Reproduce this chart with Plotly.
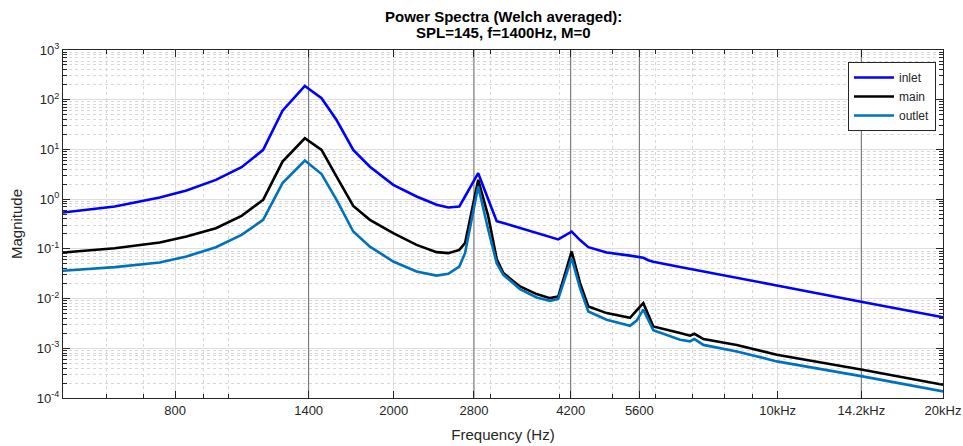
import plotly.graph_objects as go

# ---- data ----
freq = [500, 621, 750, 839, 949, 1057, 1157, 1255, 1378, 1478, 1574, 1688, 1810, 1996,
        2201, 2394, 2514, 2633, 2697, 2850, 2973, 3080, 3167, 3396, 3641, 3850, 3986,
        4217, 4368, 4522, 4884, 5385, 5538, 5694, 5815, 5938, 6643, 6926, 7054, 7326,
        8425, 9966, 14270, 20000]

inlet = [0.537, 0.71, 1.08, 1.49, 2.44, 4.39, 9.8, 60, 189, 107, 39, 9.8, 4.5, 1.94,
         1.13, 0.77, 0.68, 0.71, 1.13, 3.33, 0.98, 0.36, 0.331, 0.263, 0.209, 0.174, 0.155,
         0.223, 0.15, 0.108, 0.0845, 0.073, 0.0703, 0.066, 0.059, 0.055, 0.043, 0.0395, 0.038, 0.0355,
         0.0263, 0.0184, 0.0085, 0.0042]

main = [0.0845, 0.103, 0.134, 0.177, 0.26, 0.46, 0.97, 5.7, 16.8, 9.8, 2.84, 0.73, 0.384, 0.207,
        0.12, 0.086, 0.082, 0.095, 0.13, 2.44, 0.45, 0.062, 0.0325, 0.0175, 0.0123, 0.0102, 0.011,
        0.0885, 0.0205, 0.00695, 0.0051, 0.0041, 0.0058, 0.0081, 0.0047, 0.00275, 0.00202, 0.00179, 0.00196, 0.00153,
        0.00117, 0.00074, 0.00037, 0.000185]

outlet = [0.0362, 0.043, 0.053, 0.070, 0.108, 0.191, 0.384, 2.1, 5.97, 3.2, 0.97, 0.223, 0.111, 0.0557,
          0.035, 0.029, 0.0315, 0.044, 0.082, 1.79, 0.24, 0.0516, 0.030, 0.0155, 0.0105, 0.009, 0.0099,
          0.065, 0.016, 0.0055, 0.00375, 0.00284, 0.0036, 0.006, 0.0037, 0.0023, 0.00149, 0.00138, 0.00153, 0.00117,
          0.000865, 0.000545, 0.000272, 0.000136]

harmonics = [1400, 2800, 4200, 5600, 14200]

x_tickvals = [800, 1400, 2000, 2800, 4200, 5600, 10000, 14200, 20000]
x_ticktext = ["800", "1400", "2000", "2800", "4200", "5600", "10kHz", "14.2kHz", "20kHz"]
x_minor = [600, 700, 900, 1000, 3000, 4000, 5000, 6000, 7000, 8000, 9000]

y_exps = [-4, -3, -2, -1, 0, 1, 2, 3]

title_lines = ["Power Spectra (Welch averaged):", "SPL=145, f=1400Hz, M=0"]

# ---- figure ----
AX = "#262626"
FONT = "Liberation Sans, Arial, Helvetica, sans-serif"
ML, MR, MT, MB = 63, 20, 50, 48
PLOT_W = 963 - ML - MR
PLOT_H = 446 - MT - MB

fig = go.Figure()

for h in harmonics:
    fig.add_trace(go.Scatter(x=[h, h], y=[1e-4, 1e3], mode="lines",
                             line=dict(color="#6a6a6a", width=1),
                             showlegend=False, hoverinfo="skip"))

fig.add_trace(go.Scatter(x=freq, y=inlet, name="inlet", mode="lines",
                         line=dict(color="#0000FF", width=2.6)))
fig.add_trace(go.Scatter(x=freq, y=main, name="main", mode="lines",
                         line=dict(color="#000000", width=2.6)))
fig.add_trace(go.Scatter(x=freq, y=outlet, name="outlet", mode="lines",
                         line=dict(color="#0072BD", width=2.6)))

y_tickvals = [10.0 ** e for e in y_exps]
y_ticktext = ["10<sup>%d</sup>" % e for e in y_exps]
y_minor = [m * 10.0 ** e for e in y_exps[:-1] for m in range(2, 10)]

annotations = []
for line_text, ypix in zip(title_lines, [16, 33]):
    annotations.append(dict(
        text="<b>%s</b>" % line_text, xref="paper", yref="paper",
        x=0.5, y=1 + (MT - ypix) / PLOT_H, xanchor="center", yanchor="middle",
        showarrow=False, font=dict(family=FONT, size=15, color="#000000")))

fig.update_layout(
    width=963, height=446,
    margin=dict(l=ML, r=MR, t=MT, b=MB, autoexpand=False),
    paper_bgcolor="white", plot_bgcolor="white",
    font=dict(family=FONT, size=13, color=AX),
    annotations=annotations,
    showlegend=True,
    legend=dict(x=(848 - ML) / PLOT_W, xanchor="left", y=1 - (62 - MT) / PLOT_H, yanchor="top",
                bgcolor="white", bordercolor=AX, borderwidth=1,
                font=dict(family=FONT, size=12, color=AX),
                tracegroupgap=0, itemwidth=40),
)

fig.update_xaxes(
    type="log", range=[2.69897, 4.30103], automargin=False,
    tickmode="array", tickvals=x_tickvals, ticktext=x_ticktext,
    ticks="inside", ticklen=7, tickcolor=AX, tickwidth=1,
    showline=True, linecolor=AX, linewidth=1, mirror="ticks",
    showgrid=True, gridcolor="#dedede", gridwidth=1,
    zeroline=False,
    tickfont=dict(family=FONT, size=13, color=AX),
    title=dict(text="Frequency (Hz)", font=dict(family=FONT, size=15, color=AX), standoff=12),
    minor=dict(tickmode="array", tickvals=x_minor, ticks="inside", ticklen=4,
               tickcolor=AX, showgrid=True, gridcolor="#d8d8d8", griddash="dot", gridwidth=1),
)

fig.update_yaxes(
    type="log", range=[-4, 3], automargin=False,
    tickmode="array", tickvals=y_tickvals, ticktext=y_ticktext,
    ticks="inside", ticklen=7, tickcolor=AX, tickwidth=1,
    showline=True, linecolor=AX, linewidth=1, mirror="ticks",
    showgrid=True, gridcolor="#dedede", gridwidth=1,
    zeroline=False,
    tickfont=dict(family=FONT, size=13, color=AX),
    title=dict(text="Magnitude", font=dict(family=FONT, size=15, color=AX), standoff=10),
    minor=dict(tickmode="array", tickvals=y_minor, ticks="inside", ticklen=4,
               tickcolor=AX, showgrid=True, gridcolor="#d8d8d8", griddash="dot", gridwidth=1),
)

fig.write_html("out.html")
